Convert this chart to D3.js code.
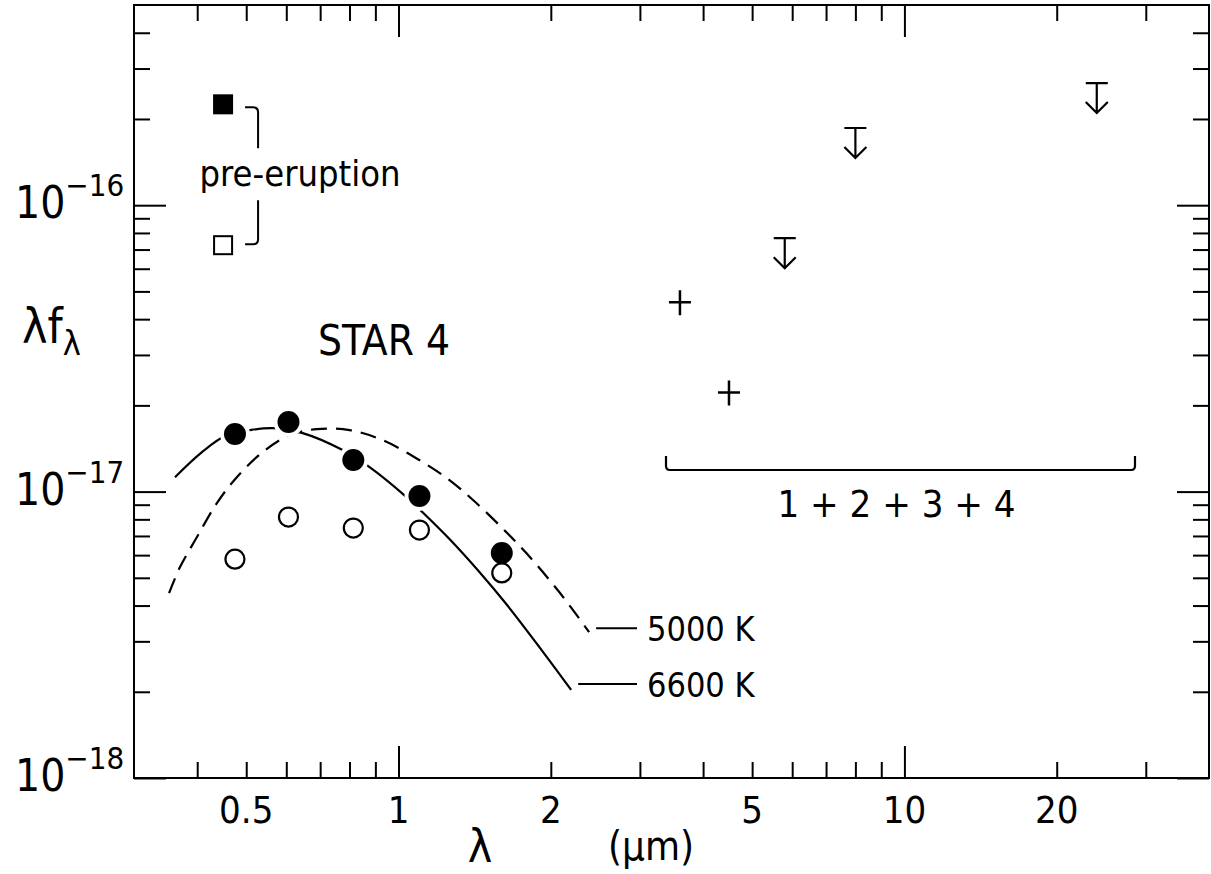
<!DOCTYPE html>
<html>
<head>
<meta charset="utf-8">
<script src="https://cdnjs.cloudflare.com/ajax/libs/d3/7.8.5/d3.min.js"></script>
<style>
  body { margin: 0; background: #fff; }
  svg text { font-family: "DejaVu Sans", sans-serif; font-stretch: condensed; fill: #000; }
</style>
</head>
<body>
<div id="chart"></div>
<script>
//wavelength (micron) and lambda*f_lambda of star 4, HST bands
var bandWave = [0.475, 0.606, 0.814, 1.10, 1.60];
var postFlux = [1.59e-17, 1.75e-17, 1.29e-17, 9.65e-18, 6.1e-18];
var oldFlux  = [5.81e-18, 8.15e-18, 7.46e-18, 7.34e-18, 5.2e-18];

//pre-eruption points
var preWave = [0.45, 0.45];
var preFlux = [2.25e-16, 7.25e-17];

//Spitzer blend 1+2+3+4
var iracWave = [3.6, 4.5];
var iracFlux = [4.58e-17, 2.22e-17];
var limitWave = [5.8, 8.0, 24];
var limitFlux = [7.67e-17, 1.86e-16, 2.67e-16];

//blackbody curves
var bb6600Wave = [0.3615, 0.4088, 0.4577, 0.5083, 0.5642, 0.6466, 0.7753, 0.8766, 1.037, 1.115, 1.261, 1.445, 1.633, 1.897, 2.194];
var bb6600Flux = [1.123e-17, 1.374e-17, 1.575e-17, 1.639e-17, 1.666e-17, 1.600e-17, 1.396e-17, 1.218e-17, 9.57e-18, 8.48e-18, 6.83e-18, 5.24e-18, 4.05e-18, 2.87e-18, 2.03e-18];
var bb5000Wave = [0.3519, 0.3699, 0.3996, 0.4375, 0.4791, 0.5391, 0.6096, 0.6892, 0.8005, 0.9298, 1.100, 1.261, 1.425, 1.633, 1.789, 2.078, 2.381];
var bb5000Flux = [4.42e-18, 5.45e-18, 6.94e-18, 9.12e-18, 1.123e-17, 1.374e-17, 1.575e-17, 1.653e-17, 1.639e-17, 1.513e-17, 1.288e-17, 1.097e-17, 9.12e-18, 7.22e-18, 6.10e-18, 4.46e-18, 3.23e-18];

//ticks
var xMajor = [1, 10];
var xMinor = [0.4, 0.5, 0.6, 0.7, 0.8, 0.9, 2, 3, 4, 5, 6, 7, 8, 9, 20, 30];
var xLabels = ["0.5", "1", "2", "5", "10", "20"];
var yMajor = [1e-18, 1e-17, 1e-16];
var yMinor = [2e-18, 3e-18, 4e-18, 5e-18, 6e-18, 7e-18, 8e-18, 9e-18,
              2e-17, 3e-17, 4e-17, 5e-17, 6e-17, 7e-17, 8e-17, 9e-17,
              2e-16, 3e-16, 4e-16];
var yLabels = ["-18", "-17", "-16"];

var margin = {top: 5, right: 2, bottom: 96, left: 134};
var W = 1211, H = 874;
var w = W - margin.left - margin.right,
    h = H - margin.top - margin.bottom;

var svg = d3.select("#chart")
  .append("svg")
    .attr("width", W)
    .attr("height", H)
  .append("g")
    .attr("transform", "translate(" + margin.left + "," + margin.top + ")");

var x = d3.scaleLog().domain([0.3, 40]).range([0, w]),
    y = d3.scaleLog().domain([1e-18, 5e-16]).range([h, 0]);

//tick marks on all four sides
function ticks(axis, vals, len, transform) {
  svg.append("g")
    .attr("transform", transform)
    .call(axis.tickValues(vals).tickSize(len).tickFormat(""))
    .call(function(g) { g.select(".domain").remove(); })
    .selectAll("line").attr("stroke", "#000").attr("stroke-width", 2);
}
ticks(d3.axisBottom(x), xMinor, -16, "translate(0," + h + ")");
ticks(d3.axisBottom(x), xMajor, -32, "translate(0," + h + ")");
ticks(d3.axisTop(x), xMinor, -16, "translate(0,0)");
ticks(d3.axisTop(x), xMajor, -32, "translate(0,0)");
ticks(d3.axisLeft(y), yMinor, -16, "translate(0,0)");
ticks(d3.axisLeft(y), yMajor, -32, "translate(0,0)");
ticks(d3.axisRight(y), yMinor, -16, "translate(" + w + ",0)");
ticks(d3.axisRight(y), yMajor, -32, "translate(" + w + ",0)");

//frame
svg.append("rect")
  .attr("width", w).attr("height", h)
  .attr("fill", "none").attr("stroke", "#000").attr("stroke-width", 2);

//x tick labels
svg.selectAll(".xlab")
  .data(xLabels)
  .enter().append("text")
    .attr("class", "xlab")
    .attr("x", function(d) { return x(+d); })
    .attr("y", h + 45)
    .attr("text-anchor", "middle")
    .style("font-size", "38px")
    .text(function(d) { return d; });

//y tick labels 10^n
var ylab = svg.selectAll(".ylab")
  .data(yLabels)
  .enter().append("text")
    .attr("class", "ylab")
    .attr("x", -119)
    .attr("y", function(d) { return y(Math.pow(10, +d)) + 13; })
    .style("font-size", "44px");
ylab.append("tspan").text("10");
ylab.append("tspan")
  .attr("dy", -22)
  .style("font-size", "31px")
  .text(function(d) { return "\u2212" + d.slice(1); });

//axis titles
svg.append("text")
  .attr("x", 480 - margin.left).attr("y", 862 - margin.top)
  .attr("text-anchor", "middle")
  .style("font-size", "46px")
  .text("\u03bb");
svg.append("text")
  .attr("x", 651 - margin.left).attr("y", 860 - margin.top)
  .attr("text-anchor", "middle")
  .style("font-size", "40px")
  .text("(\u03bcm)");
var ytitle = svg.append("text")
  .attr("x", 22 - margin.left).attr("y", 343 - margin.top)
  .style("font-size", "48px");
ytitle.append("tspan").text("\u03bbf");
ytitle.append("tspan").attr("dy", 12).style("font-size", "34px").text("\u03bb");

//blackbody curves
var line = d3.line()
  .x(function(d) { return x(d[0]); })
  .y(function(d) { return y(d[1]); })
  .curve(d3.curveCatmullRom);

svg.append("path")
  .datum(d3.zip(bb5000Wave, bb5000Flux))
  .attr("d", line)
  .attr("fill", "none").attr("stroke", "#000").attr("stroke-width", 2.2)
  .attr("stroke-dasharray", "16,9");
svg.append("path")
  .datum(d3.zip(bb6600Wave, bb6600Flux))
  .attr("d", line)
  .attr("fill", "none").attr("stroke", "#000").attr("stroke-width", 2.2);

//curve labels with leader lines
var bbLabels = [
  {text: "5000 K", wave: bb5000Wave[bb5000Wave.length - 1], flux: bb5000Flux[bb5000Flux.length - 1], dy: -4},
  {text: "6600 K", wave: bb6600Wave[bb6600Wave.length - 1], flux: bb6600Flux[bb6600Flux.length - 1], dy: -6}
];
var labelX = 647 - margin.left;
bbLabels.forEach(function(d) {
  var px = x(d.wave), py = y(d.flux) + d.dy;
  svg.append("line")
    .attr("x1", px + 7).attr("x2", labelX - 10)
    .attr("y1", py).attr("y2", py)
    .attr("stroke", "#000").attr("stroke-width", 2);
  svg.append("text")
    .attr("x", labelX).attr("y", py + 13)
    .style("font-size", "34px")
    .text(d.text);
});

//post-eruption (filled) and old (open) circles
var post = d3.zip(bandWave, postFlux), old = d3.zip(bandWave, oldFlux);
svg.selectAll(".halo")
  .data(post)
  .enter().append("circle")
    .attr("cx", function(d) { return x(d[0]); })
    .attr("cy", function(d) { return y(d[1]); })
    .attr("r", 15)
    .attr("fill", "#fff");
svg.selectAll(".open")
  .data(old)
  .enter().append("circle")
    .attr("cx", function(d) { return x(d[0]); })
    .attr("cy", function(d) { return y(d[1]); })
    .attr("r", 9.5)
    .attr("fill", "#fff").attr("stroke", "#000").attr("stroke-width", 2.2);
svg.selectAll(".filled")
  .data(post)
  .enter().append("circle")
    .attr("cx", function(d) { return x(d[0]); })
    .attr("cy", function(d) { return y(d[1]); })
    .attr("r", 11)
    .attr("fill", "#000");

//pre-eruption squares
svg.selectAll(".sq")
  .data(d3.zip(preWave, preFlux))
  .enter().append("rect")
    .attr("x", function(d) { return x(d[0]) - 9; })
    .attr("y", function(d) { return y(d[1]) - 9; })
    .attr("width", 18).attr("height", 18)
    .attr("fill", function(d, i) { return i === 0 ? "#000" : "#fff"; })
    .attr("stroke", "#000").attr("stroke-width", 2);

//brackets joining the pre-eruption squares
var sx = x(preWave[0]) + 22, sTop = y(preFlux[0]) + 3, sBot = y(preFlux[1]) - 1;
svg.append("path")
  .attr("d", "M" + sx + "," + sTop + " h8 q5,0 5,5 V" + (sTop + 41))
  .attr("fill", "none").attr("stroke", "#000").attr("stroke-width", 2);
svg.append("path")
  .attr("d", "M" + (sx + 13) + "," + (sBot - 44) + " V" + (sBot - 5) + " q0,5 -5,5 h-8")
  .attr("fill", "none").attr("stroke", "#000").attr("stroke-width", 2);
svg.append("text")
  .attr("x", x(preWave[0]) + 77).attr("y", (sTop + sBot) / 2 + 10)
  .attr("text-anchor", "middle")
  .style("font-size", "36px")
  .text("pre-eruption");

svg.append("text")
  .attr("x", 318 - margin.left).attr("y", 355 - margin.top)
  .style("font-size", "42px")
  .text("STAR 4");

//IRAC detections as plus signs
svg.selectAll(".plus")
  .data(d3.zip(iracWave, iracFlux))
  .enter().append("path")
    .attr("d", function(d) {
      var px = x(d[0]), py = y(d[1]);
      return "M" + (px - 11) + "," + py + "h22M" + px + "," + (py - 12) + "v25";
    })
    .attr("stroke", "#000").attr("stroke-width", 2.5).attr("fill", "none");

//upper limits
svg.selectAll(".limit")
  .data(d3.zip(limitWave, limitFlux))
  .enter().append("path")
    .attr("d", function(d) {
      var px = x(d[0]), py = y(d[1]);
      return "M" + (px - 11) + "," + py + "h22M" + px + "," + py + "v30" +
             "M" + (px - 11) + "," + (py + 19) + "L" + px + "," + (py + 30) + "L" + (px + 11) + "," + (py + 19);
    })
    .attr("stroke", "#000").attr("stroke-width", 2.2).attr("fill", "none");

//bracket under the Spitzer points
var bx0 = 666 - margin.left, bx1 = 1135 - margin.left, by = 470 - margin.top;
svg.append("path")
  .attr("d", "M" + bx0 + "," + (by - 14) + " V" + (by - 4) + " q0,4 4,4 H" + (bx1 - 4) + " q4,0 4,-4 V" + (by - 14))
  .attr("fill", "none").attr("stroke", "#000").attr("stroke-width", 2.2);
svg.append("text")
  .attr("x", (bx0 + bx1) / 2 - 4).attr("y", 517 - margin.top)
  .attr("text-anchor", "middle")
  .style("font-size", "38px")
  .text("1 + 2 + 3 + 4");
</script>
</body>
</html>
